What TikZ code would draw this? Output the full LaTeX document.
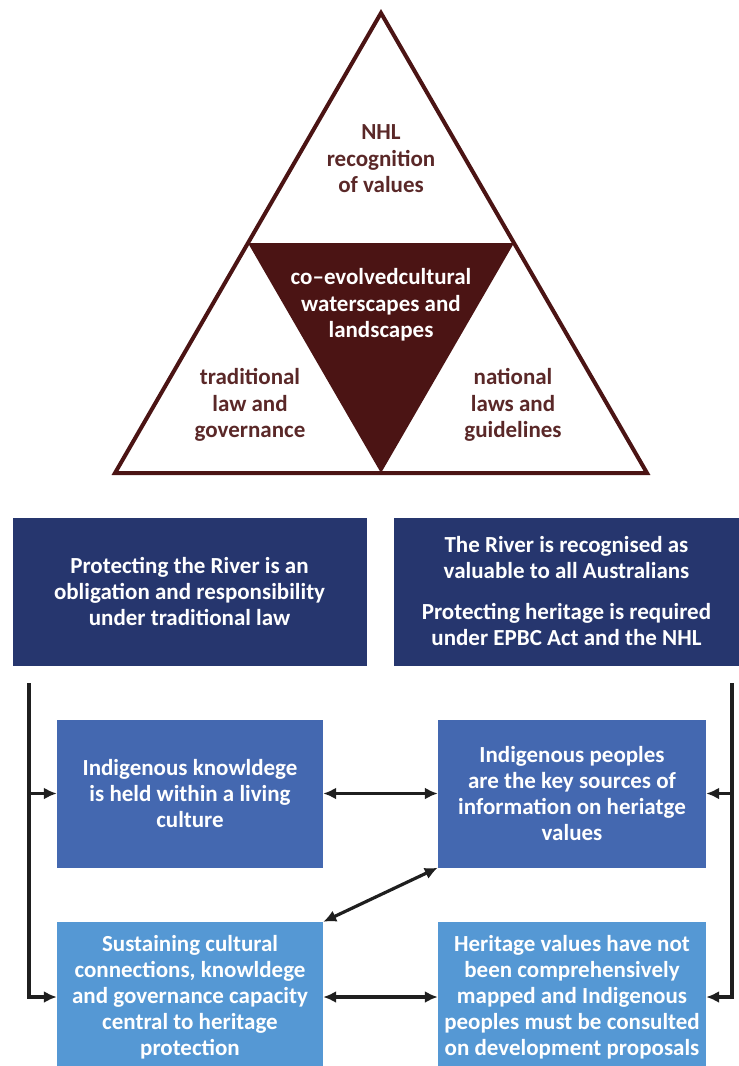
\documentclass[tikz,border=0pt]{standalone}
\usepackage{fontspec}
\setmainfont{Carlito}
\usepackage{xcolor}
\usepackage{tikz}
\usetikzlibrary{arrows.meta, positioning, calc}

\definecolor{riverbrown}{HTML}{4B1414}
\definecolor{labelbrown}{HTML}{5A2828}
\definecolor{navyblue}{HTML}{26366E}
\definecolor{midblue}{HTML}{4468B0}
\definecolor{lightblue}{HTML}{5598D4}

\tikzset{
  trilabel/.style={
    align=center, font=\fontsize{23}{26.5}\selectfont\bfseries,
    text=labelbrown, inner sep=0pt
  },
  infobox/.style={
    rectangle, align=center, inner sep=0pt, text=white,
    font=\fontsize{23}{26}\selectfont\bfseries,
    minimum height=148pt
  },
  flowarrow/.style={
    -{Latex[length=13pt, width=12pt]}, line width=3.2pt, color=black!88
  },
  botharrow/.style={
    {Latex[length=13pt, width=12pt]}-{Latex[length=13pt, width=12pt]},
    line width=3.2pt, color=black!88
  },
}

\begin{document}
\begin{tikzpicture}[x=1pt, y=-1pt]
  \useasboundingbox (0,0) rectangle (739,1066);

  % Triangle of values
  \coordinate (apex) at (381,13);
  \coordinate (baseleft) at (115,473);
  \coordinate (baseright) at (647,473);
  \coordinate (midleft) at ($(apex)!0.5!(baseleft)$);
  \coordinate (midright) at ($(apex)!0.5!(baseright)$);
  \coordinate (midbase) at ($(baseleft)!0.5!(baseright)$);

  \fill[riverbrown] (midleft) -- (midright) -- (midbase) -- cycle;
  \draw[riverbrown, line width=4pt, line join=miter]
    (apex) -- (baseleft) -- (baseright) -- cycle;

  \node[trilabel] (nhl) at (381,159) {NHL\\recognition\\of values};
  \node[trilabel, text=white] (core) at (381,305)
    {co–evolvedcultural\\waterscapes and\\landscapes};
  \node[trilabel] (tradlaw) at (250,405) {traditional\\law and\\governance};
  \node[trilabel] (natlaw) at (513,405) {national\\laws and\\guidelines};

  % Top boxes
  \node[infobox, fill=navyblue, minimum width=354pt] (oblig) at (189.5,591.5)
    {Protecting the River is an\\obligation and responsibility\\under traditional law};
  \node[infobox, fill=navyblue, minimum width=345pt] (valued) at (566.5,591.5)
    {The River is recognised as\\valuable to all Australians\\[15pt]
     Protecting heritage is required\\under EPBC Act and the NHL};

  % Middle boxes
  \node[infobox, fill=midblue, minimum width=266pt] (knowledge) at (190,793.5)
    {Indigenous knowldege\\is held within a living\\culture};
  \node[infobox, fill=midblue, minimum width=268pt] (sources) at (572,793.5)
    {Indigenous peoples\\are the key sources of\\information on heriatge\\values};

  % Bottom boxes
  \node[infobox, fill=lightblue, minimum width=266pt, minimum height=150pt] (sustain) at (190,997)
    {Sustaining cultural\\connections, knowldege\\and governance capacity\\central to heritage\\protection};
  \node[infobox, fill=lightblue, minimum width=268pt, minimum height=150pt] (mapped) at (572,997)
    {Heritage values have not\\been comprehensively\\mapped and Indigenous\\peoples must be consulted\\on development proposals};

  % Side connectors
  \coordinate (lefttop) at (29,683);
  \coordinate (leftmid) at (29,793.5);
  \coordinate (righttop) at (732,683);
  \coordinate (rightmid) at (732,793.5);

  \draw[flowarrow] (lefttop) |- (sustain.west);
  \draw[flowarrow] (leftmid) -- (knowledge.west);
  \draw[flowarrow] (righttop) |- (mapped.east);
  \draw[flowarrow] (rightmid) -- (sources.east);

  % Links between boxes
  \draw[botharrow] (knowledge.east) -- (sources.west);
  \draw[botharrow] (sustain.east) -- (mapped.west);
  \draw[botharrow] (sustain.north east) -- (sources.south west);
\end{tikzpicture}
\end{document}
